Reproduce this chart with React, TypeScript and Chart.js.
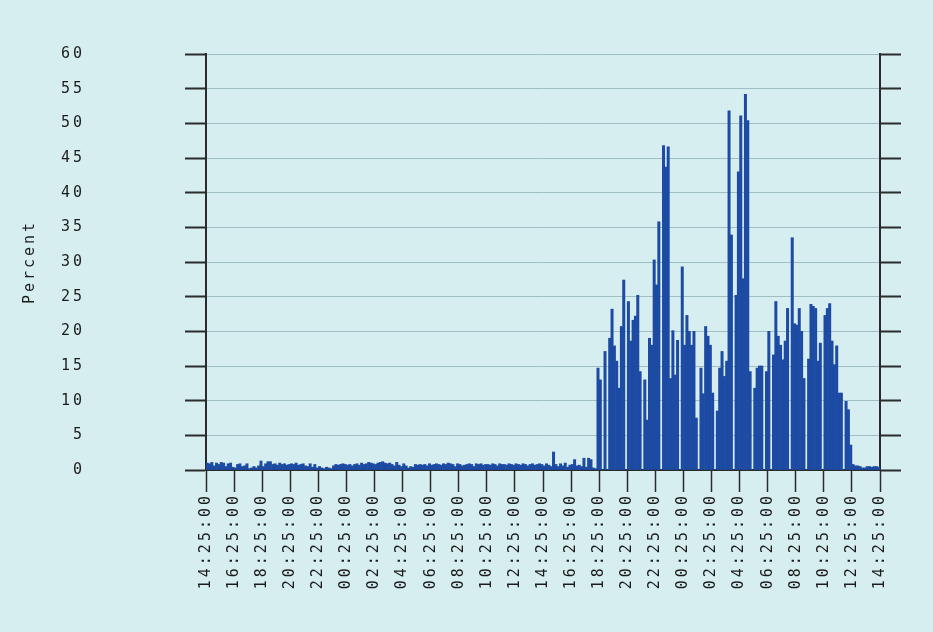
import React, { useEffect, useRef } from 'react';
import { Chart, registerables } from 'chart.js';

Chart.register(...registerables);

// Tick labels along the time axis (every 2 hours over 48 hours)
const timeLabels = [
  '14:25:00', '16:25:00', '18:25:00', '20:25:00', '22:25:00', '00:25:00',
  '02:25:00', '04:25:00', '06:25:00', '08:25:00', '10:25:00', '12:25:00',
  '14:25:00', '16:25:00', '18:25:00', '20:25:00', '22:25:00', '00:25:00',
  '02:25:00', '04:25:00', '06:25:00', '08:25:00', '10:25:00', '12:25:00',
  '14:25:00',
];
// 10-minute samples -> 12 samples per 2-hour label
const samplesPerLabel = 12;
const yMax = 60;
const yStep = 5;

// Percent, first 24 hours (10-minute samples, one row = 2 hours)
const percentDay1 = [
  1.0, 0.9, 1.1, 0.6, 1.0, 0.8, 1.1, 1.0, 0.5, 0.9, 1.0, 0.4,
  0.3, 0.8, 0.9, 0.5, 0.6, 0.9, 0.2, 0.3, 0.5, 0.3, 0.6, 1.3,
  0.5, 0.9, 1.2, 1.2, 0.8, 0.9, 0.7, 1.0, 0.8, 0.9, 0.7, 0.8,
  0.9, 0.8, 1.0, 0.7, 0.8, 0.9, 0.6, 0.5, 0.9, 0.4, 0.8, 0.3,
  0.5, 0.3, 0.2, 0.4, 0.3, 0.2, 0.6, 0.8, 0.7, 0.8, 0.9, 0.8,
  0.7, 0.8, 0.6, 0.8, 0.9, 0.7, 1.0, 0.8, 0.9, 1.1, 1.0, 0.9,
  0.8, 1.0, 1.1, 1.2, 1.0, 0.9, 1.0, 0.8, 0.6, 1.1, 0.7, 0.5,
  0.9, 0.6, 0.3, 0.5, 0.4, 0.8, 0.7, 0.8, 0.7, 0.8, 0.6, 0.9,
  0.7, 0.8, 0.9, 0.8, 0.7, 0.9, 0.8, 1.0, 0.9, 0.8, 0.5, 0.9,
  0.8, 0.6, 0.7, 0.8, 0.9, 0.8, 0.5, 0.9, 0.8, 0.9, 0.7, 0.8,
  0.8, 0.7, 0.9, 0.8, 0.6, 0.9, 0.8, 0.8, 0.7, 0.9, 0.8, 0.7,
  0.9, 0.8, 0.7, 0.9, 0.8, 0.6, 0.8, 0.9, 0.7, 0.8, 0.9, 0.8,
];

// Percent, second 24 hours
const percentDay2 = [
  0.6, 0.9, 0.7, 0.5, 2.6, 0.8, 0.5, 0.9, 0.6, 1.0, 0.4, 0.7,
  0.8, 1.5, 0.6, 0.7, 0.5, 1.7, 0.4, 1.7, 1.5, 0.3, 0.2, 14.7,
  13, 0, 17.1, 0, 19, 23.2, 17.9, 15.7, 11.8, 20.7, 27.4, 0,
  24.3, 18.6, 21.6, 22.2, 25.2, 14.2, 0, 13, 7.2, 19, 18, 30.3,
  26.7, 35.8, 0, 46.8, 43.7, 46.6, 13.2, 20.1, 13.7, 18.7, 0, 29.3,
  18, 22.3, 20, 18, 20, 7.5, 0, 14.7, 11, 20.7, 19.3, 18,
  11.1, 0, 8.5, 14.7, 17.1, 13.5, 15.7, 51.8, 33.9, 0, 25.2, 43,
  51.1, 27.6, 54.2, 50.4, 14.2, 0, 11.8, 14.7, 15, 15, 0, 14.2,
  20, 0, 16.6, 24.3, 19.3, 18, 15.9, 18.6, 23.3, 0, 33.5, 21.1,
  20.9, 23.3, 20, 13.2, 0, 16, 23.9, 23.6, 23.3, 15.7, 18.3, 0,
  22.3, 23.3, 24, 18.6, 15.2, 17.9, 11.1, 11.1, 0, 9.9, 8.7, 3.6,
  0.8, 0.6, 0.6, 0.5, 0.3, 0.3, 0.5, 0.5, 0.4, 0.5, 0.5, 0.4,
];

const BG = '#d6eef0';
const BAR = '#1d4ba3';
const AXIS = '#2b2b2b';
const GRID = '#9fbfc4';
const TEXT = '#1c1c1c';
const FONT = { family: '"DejaVu Sans Mono", "Liberation Mono", monospace', size: 15 };
const LETTER_SPACING = '3px';

const spacingPlugin = {
  id: 'letterSpacing',
  beforeUpdate(chart: any) { chart.ctx.letterSpacing = LETTER_SPACING; },
  beforeLayout(chart: any) { chart.ctx.letterSpacing = LETTER_SPACING; },
  beforeDraw(chart: any) { chart.ctx.letterSpacing = LETTER_SPACING; },
};

export default function App() {
  const canvasRef = useRef<HTMLCanvasElement | null>(null);

  useEffect(() => {
    const canvas = canvasRef.current;
    if (!canvas) return;
    const values = [...percentDay1, ...percentDay2];
    const points = values.map((v, i) => ({ x: i + 0.5, y: v }));
    const xMax = (timeLabels.length - 1) * samplesPerLabel;

    const chart = new Chart(canvas, {
      type: 'bar',
      data: {
        datasets: [
          {
            data: points as any,
            backgroundColor: BAR,
            borderWidth: 0,
            barPercentage: 1,
            categoryPercentage: 1,
            yAxisID: 'y',
          },
        ],
      },
      options: {
        responsive: false,
        animation: false,
        devicePixelRatio: 1,
        layout: { padding: { top: 54, left: 0, right: 0, bottom: 0 } },
        plugins: {
          legend: { display: false },
          tooltip: { enabled: false },
          title: { display: false },
        },
        scales: {
          x: {
            type: 'linear',
            min: 0,
            max: xMax,
            offset: false,
            grid: {
              offset: false,
              drawOnChartArea: false,
              drawTicks: true,
              tickLength: 22,
              tickColor: AXIS,
              tickWidth: 1.5,
            },
            border: { display: true, color: AXIS, width: 2 },
            ticks: {
              stepSize: samplesPerLabel,
              autoSkip: false,
              maxRotation: 90,
              minRotation: 90,
              padding: 1,
              color: TEXT,
              font: FONT,
              callback: (_v: any, i: number) => timeLabels[i],
            },
            afterFit: (s: any) => { s.height = 162; s.paddingLeft = 0; s.paddingRight = 0; },
          },
          y: {
            type: 'linear',
            position: 'left',
            min: 0,
            max: yMax,
            grid: {
              color: GRID,
              lineWidth: 1,
              drawTicks: true,
              tickLength: 21,
              tickColor: AXIS,
              tickWidth: 2,
            },
            border: { display: true, color: AXIS, width: 2 },
            ticks: {
              stepSize: yStep,
              padding: 100,
              color: TEXT,
              font: FONT,
              callback: (v: any) => String(v).padStart(2, ' '),
            },
            title: {
              display: true,
              text: 'Percent',
              color: TEXT,
              font: FONT,
              padding: { top: 21, bottom: 0 },
            },
            afterFit: (s: any) => { s.width = 206; s.paddingTop = 10; s.paddingBottom = 10; },
          },
          y2: {
            type: 'linear',
            position: 'right',
            min: 0,
            max: yMax,
            grid: {
              drawOnChartArea: false,
              drawTicks: true,
              tickLength: 21,
              tickColor: AXIS,
              tickWidth: 2,
            },
            border: { display: true, color: AXIS, width: 2 },
            ticks: {
              stepSize: yStep,
              padding: 0,
              font: FONT,
              callback: () => '',
            },
            afterFit: (s: any) => { s.width = 53; s.paddingTop = 10; s.paddingBottom = 10; },
          },
        },
      },
      plugins: [spacingPlugin],
    });
    return () => chart.destroy();
  }, []);

  return (
    <div
      style={{
        position: 'fixed',
        left: 0,
        top: 0,
        width: 933,
        height: 632,
        background: BG,
      }}
    >
      <canvas ref={canvasRef} width={933} height={632} style={{ display: 'block' }} />
    </div>
  );
}
